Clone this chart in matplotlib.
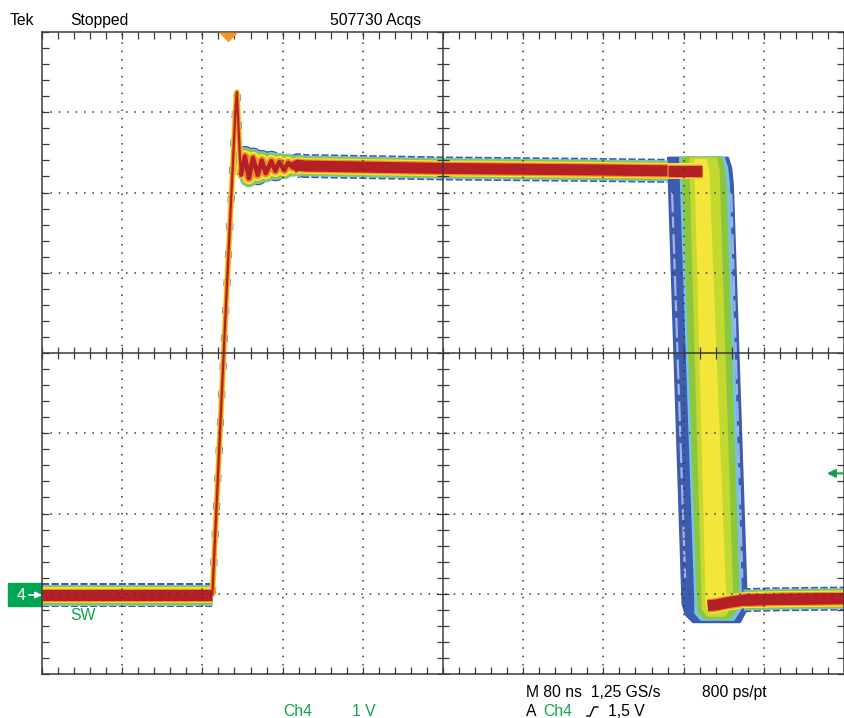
"""Tek scope screenshot: SW node (Ch4) persistence view"""

import numpy as np
import matplotlib
matplotlib.use("Agg")
import matplotlib.pyplot as plt
from matplotlib.patches import Polygon, Rectangle
from matplotlib.lines import Line2D
from matplotlib.transforms import IdentityTransform

# time in ns (80 ns/div), Ch4 in volts (1 V/div, ground 3 div below centre)
low_t = [0, 170]
low_v = [-0.01, -0.01]
rise_t = [170, 182, 193, 194.4, 196.8, 198.4]
rise_v = [0.0, 3.2, 6.03, 6.25, 5.6, 5.21]
ring_t = [198.4, 202.4, 206.4, 210.4, 215.2, 219.2, 223.2, 228.8, 232.8, 236.8,
          241.6, 245.6, 250.4, 255.2, 262.4]
ring_v = [5.21, 5.45, 5.18, 5.43, 5.22, 5.40, 5.24, 5.39, 5.27, 5.38,
          5.28, 5.37, 5.31, 5.34, 5.33]
high_t = [250.4, 255.2, 262.4, 400, 560, 624, 658]
high_v = [5.31, 5.34, 5.33, 5.30, 5.28, 5.27, 5.27]
after_t = [664, 672, 684, 700, 730, 800]
after_v = [-0.15, -0.14, -0.11, -0.08, -0.07, -0.06]

# falling-edge jitter band, one outline per persistence colour
fall_blue_t = [624.8, 684, 687.2, 688.8, 702.4, 701.6, 696, 649.6, 642.4, 639.2]
fall_blue_v = [5.43, 5.43, 5.30, 5.10, 0.00, -0.22, -0.35, -0.35, -0.26, -0.12]
fall_cyan_t = [636.8, 680, 683.2, 684.8, 696.8, 696, 689.6, 657.6, 652, 652]
fall_cyan_v = [5.43, 5.43, 5.30, 5.10, 0.0, -0.20, -0.32, -0.32, -0.24, -0.08]
fall_green_t = [639.2, 677.6, 680, 681.6, 694.4, 692.8, 686.4, 660.8, 655.2, 654.4]
fall_green_v = [5.43, 5.43, 5.30, 5.10, 0.0, -0.18, -0.30, -0.30, -0.22, -0.08]
fall_lgreen_t = [647, 672, 674.5, 675, 688, 686.4, 680.8, 664, 659.2, 659.2]
fall_lgreen_v = [5.42, 5.42, 5.28, 5.10, 0.0, -0.16, -0.27, -0.27, -0.18, -0.05]
fall_yellow_t = [652, 662, 664.4, 665, 681, 679.2, 674.4, 667.2, 663.2, 663.2]
fall_yellow_v = [5.40, 5.40, 5.25, 5.05, 0.0, -0.15, -0.23, -0.23, -0.15, 0.0]
# lighter streaks inside the blue edges of the band
streak_left_t = [628.5, 641.5]
streak_left_v = [5.0, 0.2]
streak_right_t = [687.5, 698.5]
streak_right_v = [5.0, 0.2]

trig_pos_ns = 185.6
trig_level_v = 1.5

BLUE = "#3d5cb0"
LAV = "#a3b2e2"
CYAN = "#72c4e6"
GREEN = "#8cc63e"
LGREEN = "#c4d92f"
YELLOW = "#f4e53b"
ORANGE = "#f3902a"
RED = "#b51f26"
GRID = "#3a3a3a"
TEKGREEN = "#12a24b"

PX = 0.72  # points per pixel at 100 dpi
FULL = (24, 21, 19, 16, 13.5, 11)
RING = (21, 18.5, 16.5, 12.5, 8.5, 4.5)


def band(ax, t, v, widths=FULL, outer=True):
    """draw a persistence trace as stacked colour layers"""
    wb, wc, wg, wy, wo, wr = widths
    if outer:
        ax.plot(t, v, color=BLUE, lw=wb * PX, dash_capstyle="butt",
                ls=(0, (0.3, 0.1)), zorder=1.1)
        ax.plot(t, v, color=CYAN, lw=wc * PX, solid_capstyle="butt", zorder=1.2)
        ax.plot(t, v, color=GREEN, lw=wg * PX, solid_capstyle="butt", zorder=1.3)
    ax.plot(t, v, color=YELLOW, lw=wy * PX, solid_capstyle="butt", zorder=1.4)
    ax.plot(t, v, color=ORANGE, lw=wo * PX, solid_capstyle="butt", zorder=1.5)
    ax.plot(t, v, color=RED, lw=wr * PX, solid_capstyle="butt", zorder=1.6)


def main():
    plt.rcParams["font.family"] = ["Liberation Sans", "DejaVu Sans"]
    fig = plt.figure(figsize=(8.45, 7.18), dpi=100)
    ax = fig.add_axes([42 / 845, 44 / 718, 802 / 845, 642 / 718])
    ax.set_xlim(0, 800)
    ax.set_ylim(-1, 7)

    # falling edge jitter region
    for tt, vv, col in [(fall_blue_t, fall_blue_v, BLUE), (fall_cyan_t, fall_cyan_v, CYAN),
                        (fall_green_t, fall_green_v, GREEN),
                        (fall_lgreen_t, fall_lgreen_v, LGREEN),
                        (fall_yellow_t, fall_yellow_v, YELLOW)]:
        ax.add_patch(Polygon(np.column_stack([tt, vv]), closed=True, facecolor=col,
                             edgecolor=col, lw=2, joinstyle="round", zorder=1.0))
    for tt, vv in [(streak_left_t, streak_left_v), (streak_right_t, streak_right_v)]:
        ax.plot(tt, vv, color=LAV, lw=2.2 * PX, ls=(0, (9, 2, 5, 3)), zorder=1.01)

    # traces
    band(ax, low_t, low_v)
    band(ax, ring_t, ring_v, widths=RING)
    band(ax, high_t[:-1], high_v[:-1])
    band(ax, high_t[-2:], high_v[-2:], outer=False)
    band(ax, after_t, after_v, outer=False)
    band(ax, after_t[3:], after_v[3:])
    ax.plot(rise_t, rise_v, color=BLUE, lw=7 * PX, ls=(0, (1, 3)), zorder=1.3)
    ax.plot(rise_t, rise_v, color=YELLOW, lw=6 * PX, zorder=1.4)
    ax.plot(rise_t, rise_v, color=ORANGE, lw=4.5 * PX, zorder=1.5)
    ax.plot(rise_t, rise_v, color=RED, lw=2.2 * PX, zorder=1.6)

    # graticule
    for x in range(80, 800, 80):
        if x != 400:
            ax.axvline(x, color=GRID, lw=1.1, ls=(0, (1, 4.5)), zorder=5)
    for y in range(0, 7):
        if y != 3:
            ax.axhline(y, color=GRID, lw=1.1, ls=(0, (1, 4.5)), zorder=5)
    ax.axvline(400, color=GRID, lw=1.1, zorder=5)
    ax.axhline(3, color=GRID, lw=1.1, zorder=5)
    xt = np.arange(0, 800.1, 16)
    yt = np.arange(-1, 7.01, 0.2)
    ax.plot(xt, np.full(len(xt), 3.0), ls="none", marker="|", ms=12 * PX,
            mew=0.9, color=GRID, zorder=5)
    ax.plot(np.full(len(yt), 400.0), yt, ls="none", marker="_", ms=12 * PX,
            mew=0.9, color=GRID, zorder=5)
    ax.set_xticks(xt)
    ax.set_yticks(yt)
    ax.tick_params(direction="in", length=5, width=0.9, color=GRID, top=True,
                   right=True, labelbottom=False, labelleft=False)
    for sp in ax.spines.values():
        sp.set_color(GRID)
        sp.set_linewidth(1.1)

    # trigger position and level markers
    ax.plot([trig_pos_ns], [6.94], marker=[(-1, 0.5), (1, 0.5), (0, -0.5)], ms=19 * PX,
            color="#f7941d", mew=0, clip_on=False, zorder=6)
    ax.annotate("", xy=(783, trig_level_v), xytext=(800, trig_level_v),
                arrowprops=dict(arrowstyle="-|>", color=TEKGREEN, lw=1.5,
                                mutation_scale=12, shrinkA=0, shrinkB=0),
                annotation_clip=False, zorder=6)

    # channel 4 ground marker
    fig.add_artist(Rectangle((8, 718 - 606), 34, 23, transform=IdentityTransform(),
                             color="#00a651", zorder=-1))
    fig.text(21 / 845, 1 - 596 / 718, "4", color="white", fontsize=11.5, ha="center",
             va="center", zorder=8)
    ax.annotate("", xy=(42, 718 - 595), xytext=(29, 718 - 595), xycoords="figure pixels",
                arrowprops=dict(arrowstyle="-|>", color="white", lw=1.3,
                                mutation_scale=9, shrinkA=0, shrinkB=0),
                annotation_clip=False, zorder=7)
    fig.text(70 / 845, 1 - 620 / 718, "SW", color=TEKGREEN, fontsize=11.3, va="baseline")

    # readouts
    fs = 11.3
    fig.text(10 / 845, 1 - 25 / 718, "Tek", fontsize=fs, va="baseline")
    fig.text(70 / 845, 1 - 25 / 718, "Stopped", fontsize=fs, va="baseline")
    fig.text(330 / 845, 1 - 25 / 718, "507730 Acqs", fontsize=fs, va="baseline")
    fig.text(283 / 845, 1 - 716 / 718, "Ch4", color=TEKGREEN, fontsize=fs, va="baseline")
    fig.text(352 / 845, 1 - 716 / 718, "1 V", color=TEKGREEN, fontsize=fs, va="baseline")
    fig.text(526 / 845, 1 - 697 / 718, "M 80 ns  1,25 GS/s", fontsize=fs, va="baseline")
    fig.text(702 / 845, 1 - 697 / 718, "800 ps/pt", fontsize=fs, va="baseline")
    fig.text(526 / 845, 1 - 716 / 718, "A", fontsize=fs, va="baseline")
    fig.text(543 / 845, 1 - 716 / 718, "Ch4", color=TEKGREEN, fontsize=fs, va="baseline")
    fig.add_artist(Line2D([587, 590, 594, 598], [718 - 716, 718 - 716, 718 - 707, 718 - 707],
                          transform=IdentityTransform(), color="black", lw=1.0))
    fig.text(608 / 845, 1 - 716 / 718, "1,5 V", fontsize=fs, va="baseline")

    fig.savefig("out.png", dpi=100)


main()
